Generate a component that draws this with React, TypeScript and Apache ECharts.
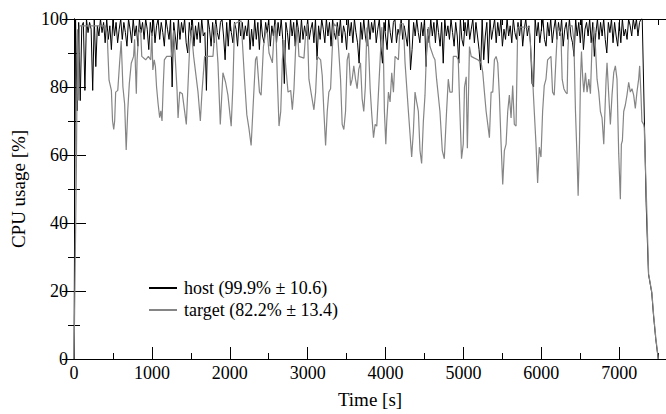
import React, { useEffect, useRef } from "react";
import * as echarts from "echarts";

const FONT = '"Liberation Serif", "Times New Roman", Times, serif';

const seriesNames = ["host (99.9% ± 10.6)", "target (82.2% ± 13.4)"];
const xTickLabels = [0, 1000, 2000, 3000, 4000, 5000, 6000, 7000];

// host: sampled every 20 s from t = 0 to 7280
const hostStep = 20;
const hostValues = [
  0, 100, 73, 99, 76, 98, 99, 79, 100, 96,
  99, 97, 79, 100, 86, 98, 95, 100, 96, 99,
  93, 100, 94, 98, 91, 100, 95, 99, 93, 97,
  100, 94, 99, 96, 92, 100, 97, 93, 100, 95,
  98, 92, 100, 96, 99, 94, 100, 97, 91, 99,
  95, 100, 93, 98, 100, 94, 99, 96, 92, 100,
  97, 94, 100, 80, 99, 95, 91, 100, 94, 99,
  96, 100, 93, 90, 99, 95, 100, 92, 98, 94,
  99, 93, 100, 95, 96, 79, 100, 97, 92, 99,
  93, 100, 96, 94, 99, 100, 95, 88, 99, 92,
  100, 96, 93, 99, 97, 92, 100, 95, 99, 94,
  98, 95, 100, 91, 97, 92, 100, 94, 99, 91,
  100, 95, 93, 99, 96, 100, 92, 98, 95, 100,
  93, 99, 95, 100, 94, 81, 99, 96, 91, 100,
  95, 99, 92, 100, 97, 93, 100, 94, 98, 95,
  100, 94, 97, 99, 93, 100, 88, 98, 94, 100,
  97, 93, 100, 95, 99, 92, 100, 96, 94, 99,
  95, 100, 93, 98, 96, 91, 100, 95, 99, 93,
  100, 96, 93, 87, 99, 94, 100, 95, 92, 100,
  94, 99, 96, 100, 93, 97, 100, 92, 87, 99,
  95, 91, 100, 96, 93, 99, 100, 93, 97, 95,
  100, 94, 98, 95, 92, 100, 85, 91, 99, 95,
  100, 96, 93, 99, 95, 100, 86, 97, 93, 100,
  95, 99, 93, 100, 96, 92, 99, 87, 100, 95,
  98, 94, 100, 96, 92, 99, 95, 87, 100, 94,
  92, 99, 95, 100, 94, 97, 100, 93, 99, 95,
  91, 85, 100, 88, 95, 99, 87, 100, 94, 97,
  100, 93, 99, 95, 100, 92, 97, 94, 100, 95,
  98, 93, 100, 96, 94, 99, 95, 100, 92, 97,
  100, 95, 98, 93, 81, 80, 100, 95, 99, 93,
  97, 100, 94, 92, 99, 95, 100, 93, 97, 100,
  94, 99, 95, 100, 92, 97, 99, 94, 100, 95,
  93, 89, 100, 95, 99, 93, 100, 91, 97, 99,
  95, 100, 93, 99, 89, 96, 100, 94, 99, 95,
  100, 94, 90, 99, 96, 100, 93, 99, 95, 92,
  99, 93, 100, 95, 97, 94, 100, 98, 95, 100,
  97, 100, 95, 99, 100,
];
const hostTailTimes = [7295, 7345, 7375, 7417, 7439, 7468, 7500];
const hostTailValues = [100, 46, 25, 19.5, 13, 6, 0];

const targetTimes = [
  0, 30, 45, 55, 70, 400, 425, 450, 480, 495, 510, 522, 535, 562, 585, 606, 628, 650, 670, 690,
  710, 735, 765, 778, 790, 800, 810, 830, 855, 870, 920, 955, 985, 1000, 1012, 1030, 1045, 1060, 1080, 1100,
  1115, 1130, 1145, 1160, 1190, 1250, 1280, 1323, 1336, 1357, 1391, 1442, 1485, 1506, 1536, 1592, 1622, 1643, 1677, 1784,
  1814, 1848, 1878, 1912, 1946, 1976, 2018, 2040, 2061, 2146, 2189, 2219, 2245, 2274, 2296, 2330, 2347, 2381, 2402, 2432,
  2466, 2483, 2504, 2547, 2568, 2590, 2611, 2632, 2654, 2675, 2696, 2718, 2748, 2782, 2803, 2824, 2846, 2867, 2888, 2952,
  2974, 2995, 3016, 3046, 3080, 3102, 3123, 3166, 3187, 3208, 3230, 3251, 3272, 3294, 3315, 3336, 3379, 3422, 3443, 3464,
  3486, 3507, 3528, 3550, 3571, 3592, 3614, 3635, 3656, 3678, 3699, 3720, 3740, 3760, 3781, 3802, 3823, 3845, 3866, 3887,
  3909, 3930, 3951, 3973, 3985, 4003, 4015, 4037, 4058, 4079, 4101, 4122, 4165, 4186, 4229, 4250, 4293, 4335, 4357, 4378,
  4399, 4421, 4442, 4463, 4485, 4506, 4527, 4549, 4570, 4613, 4634, 4655, 4698, 4728, 4754, 4783, 4805, 4826, 4856, 4869,
  4911, 4933, 4954, 4975, 4997, 5013, 5035, 5050, 5077, 5099, 5141, 5184, 5227, 5248, 5269, 5291, 5312, 5333, 5355, 5376,
  5397, 5419, 5440, 5461, 5483, 5504, 5525, 5547, 5568, 5589, 5611, 5632, 5653, 5675, 5696, 5845, 5888, 5909, 5931, 5952,
  5973, 5995, 6016, 6037, 6059, 6080, 6123, 6144, 6165, 6187, 6208, 6251, 6267, 6289, 6310, 6331, 6340, 6353, 6395, 6417,
  6438, 6459, 6472, 6489, 6502, 6515, 6532, 6545, 6566, 6587, 6609, 6630, 6651, 6673, 6694, 6715, 6737, 6758, 6779, 6801,
  6813, 6831, 6843, 6865, 6886, 6907, 6929, 6950, 6971, 6993, 7014, 7027, 7040, 7057, 7078, 7099, 7121, 7142, 7163, 7185,
  7206, 7227, 7249, 7262, 7279, 7291, 7313, 7321, 7348, 7377, 7419, 7441, 7470, 7502,
];
const targetValues = [
  0, 55, 97, 76, 98, 98, 96, 82, 79, 70, 67.5, 70, 78.5, 79, 87, 93.5, 80, 75, 61.5, 73,
  81, 87, 89, 94, 85, 78, 88, 96, 97, 89, 88, 89, 88, 96, 85, 88, 86, 80, 75, 71,
  73, 70, 80, 88, 89, 89, 96.7, 79, 70.9, 78.5, 78, 69, 91.9, 96.7, 89, 78.5, 70, 78.5, 89, 89,
  98.6, 87.1, 69, 84.2, 81.4, 77.6, 68.5, 80.4, 98.6, 99.5, 82.3, 71.8, 68, 62.8, 72.8, 88, 89, 78.5, 77.6, 91.9,
  96.7, 95.7, 90, 87.1, 95.7, 98.6, 82.3, 68.5, 72.8, 88, 93.8, 86.2, 78.5, 79, 73.3, 79.5, 91.9, 97.6, 89, 88.5,
  95.7, 98.6, 82.3, 78, 73.3, 78.5, 89, 88, 83.3, 72.8, 62.8, 72.8, 78.5, 79.5, 90.9, 98.6, 97.6, 82.3, 69, 67.5,
  72.8, 88, 90, 80.4, 82.3, 86.2, 82.3, 79.5, 85.2, 87.1, 76.6, 72.8, 80, 97.5, 91.9, 79.5, 71.8, 65.1, 69, 68.5,
  78.5, 88, 97.6, 89, 72.8, 63.2, 69.9, 78.5, 75.6, 84.2, 78.5, 89, 88, 98.6, 98.6, 87.1, 72.8, 59.4, 67, 78.5,
  75.6, 72.8, 61.3, 57.5, 69.9, 77.6, 91.9, 97.6, 91.9, 89, 88, 82.3, 72.8, 61.3, 58.9, 72.8, 82.3, 78.5, 78.5, 89,
  89, 88, 72.8, 58.9, 63.2, 80, 83, 62, 91.9, 89, 88.5, 88, 87.1, 84.2, 78.5, 72.8, 69, 65.1, 78.5, 78.5,
  88, 89, 87.1, 77.6, 63.2, 51.3, 61.3, 63.2, 72.8, 77.6, 70.9, 80.4, 69, 68.5, 97.6, 97.6, 82.3, 72.8, 63.2, 51.8,
  62.3, 59.4, 72.8, 80.4, 82.3, 88, 89, 78.5, 77.6, 88, 97.6, 95.7, 82.3, 79.5, 78.5, 78, 90, 97.6, 98.1, 93.8,
  72.8, 58.5, 48, 63.2, 82.3, 90.4, 82.3, 78.5, 84.2, 78.5, 82.3, 78, 92.8, 97.6, 91.9, 82.3, 78.5, 72.8, 70.9, 63.2,
  70.9, 82.3, 87.1, 77.6, 69, 77.6, 84.2, 86.2, 82.3, 60.4, 47, 63.2, 64.2, 72.8, 74.7, 77.6, 81.4, 78.5, 79.5, 77.6,
  73.7, 78.5, 82.3, 86.2, 77.6, 69.9, 69, 68, 48, 25, 19.5, 13, 6, 0,
];

const X_MAX = 7600;

export default function App() {
  const ref = useRef<HTMLDivElement>(null);

  useEffect(() => {
    if (!ref.current) return;
    const chart = echarts.init(ref.current, undefined, { renderer: "svg" });

    const hostData: number[][] = hostValues.map((v, i) => [i * hostStep, v]);
    hostTailTimes.forEach((t, i) => hostData.push([t, hostTailValues[i]]));
    const targetData = targetTimes.map((t, i) => [t, targetValues[i]]);

    const black = "#000";
    const textStyle = { color: black, fontFamily: FONT, fontSize: 18 };

    const xBase = {
      type: "value" as const,
      min: 0,
      max: X_MAX,
      splitLine: { show: false },
    };
    const yBase = {
      type: "value" as const,
      min: 0,
      max: 100,
      interval: 20,
      splitLine: { show: false },
      axisLine: { show: true, lineStyle: { color: black, width: 1 } },
      axisTick: { show: true, inside: true, length: 12, lineStyle: { color: black, width: 1 } },
      minorTick: { show: true, splitNumber: 2, length: 6, lineStyle: { color: black, width: 1 } },
      minorSplitLine: { show: false },
    };

    chart.setOption({
      animation: false,
      backgroundColor: "#fff",
      grid: { left: 74, top: 19, right: -2, bottom: 46, containLabel: false },
      legend: {
        orient: "vertical",
        left: 144,
        top: 274,
        padding: 5,
        itemWidth: 28,
        itemHeight: 2,
        itemGap: 4,
        icon: "rect",
        data: seriesNames,
        textStyle: { ...textStyle, fontSize: 18, padding: [0, 0, 0, 2] },
      },
      xAxis: [
        {
          ...xBase,
          position: "bottom",
          interval: 1000,
          axisLine: { show: true, lineStyle: { color: black, width: 1 } },
          axisTick: { show: true, inside: true, length: 12, lineStyle: { color: black, width: 1 } },
          axisLabel: {
            ...textStyle,
            margin: 5,
            showMaxLabel: false,
            formatter: (v: number) => (xTickLabels.indexOf(v) >= 0 ? String(v) : ""),
          },
          name: "Time [s]",
          nameLocation: "middle",
          nameGap: 31,
          nameTextStyle: { ...textStyle, fontSize: 19 },
        },
        {
          ...xBase,
          position: "bottom",
          interval: 500,
          axisLine: { show: false },
          axisTick: { show: true, inside: true, length: 6, lineStyle: { color: black, width: 1 } },
          axisLabel: { show: false },
        },
        {
          ...xBase,
          position: "top",
          interval: 1000,
          axisLine: { show: true, lineStyle: { color: black, width: 1 } },
          axisTick: { show: true, inside: true, length: 12, lineStyle: { color: black, width: 1 } },
          axisLabel: { show: false },
        },
        {
          ...xBase,
          position: "top",
          interval: 500,
          axisLine: { show: false },
          axisTick: { show: true, inside: true, length: 6, lineStyle: { color: black, width: 1 } },
          axisLabel: { show: false },
        },
      ],
      yAxis: [
        {
          ...yBase,
          position: "left",
          axisLabel: { ...textStyle, margin: 6 },
          name: "CPU usage [%]",
          nameLocation: "middle",
          nameGap: 46,
          nameRotate: 90,
          nameTextStyle: { ...textStyle, fontSize: 19 },
        },
        {
          ...yBase,
          position: "right",
          axisLabel: { show: false },
        },
      ],
      series: [
        {
          name: seriesNames[0],
          type: "line",
          xAxisIndex: 0,
          yAxisIndex: 0,
          data: hostData,
          showSymbol: false,
          symbol: "none",
          lineStyle: { color: "#000", width: 1 },
          itemStyle: { color: "#000" },
        },
        {
          name: seriesNames[1],
          type: "line",
          xAxisIndex: 0,
          yAxisIndex: 0,
          data: targetData,
          showSymbol: false,
          symbol: "none",
          lineStyle: { color: "#858585", width: 1.2 },
          itemStyle: { color: "#858585" },
        },
      ],
    });

    return () => chart.dispose();
  }, []);

  return (
    <div
      ref={ref}
      style={{ position: "fixed", left: 0, top: 0, width: 666, height: 414, background: "#fff" }}
    />
  );
}
